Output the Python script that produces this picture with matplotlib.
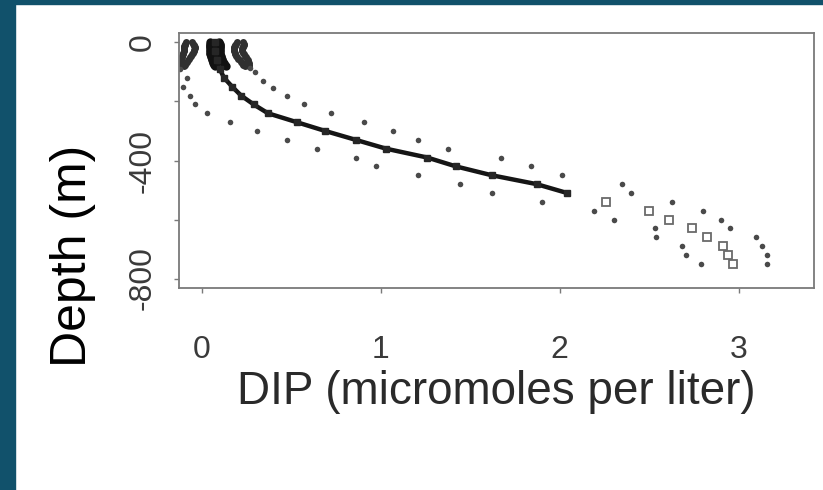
import matplotlib
matplotlib.use("Agg")
import matplotlib.pyplot as plt
from matplotlib.patches import Rectangle

plt.rcParams['font.family'] = ['Liberation Sans', 'DejaVu Sans']

# near-surface samples: three dense clusters (inner/outer edge of each)
surf_depth = [0, 4, 8, 12, 16, 20, 25, 30, 35, 40, 45, 50, 55, 60, 65, 70, 75, 80]
left_out = [-0.088, -0.093, -0.093, -0.099, -0.099, -0.099, -0.099, -0.099, -0.104,
            -0.104, -0.110, -0.110, -0.115, -0.115, -0.121, -0.121, -0.124, -0.124]
left_in = [-0.054, -0.049, -0.043, -0.043, -0.037, -0.037, -0.043, -0.043, -0.049,
           -0.054, -0.060, -0.065, -0.071, -0.076, -0.082, -0.088, -0.093, -0.099]
mid_out = [0.046, 0.046, 0.046, 0.046, 0.046, 0.046, 0.046, 0.046, 0.046,
           0.046, 0.052, 0.052, 0.057, 0.057, 0.063, 0.063, 0.069, 0.074]
mid_in = [0.096, 0.102, 0.102, 0.102, 0.102, 0.102, 0.102, 0.102, 0.102,
          0.102, 0.108, 0.108, 0.113, 0.113, 0.119, 0.124, 0.130, 0.136]
right_out = [0.197, 0.191, 0.186, 0.186, 0.180, 0.180, 0.180, 0.180, 0.186,
             0.186, 0.191, 0.197, 0.202, 0.214, 0.218, 0.225, 0.232, 0.240]
right_in = [0.230, 0.236, 0.236, 0.230, 0.230, 0.225, 0.225, 0.225, 0.230,
            0.236, 0.241, 0.247, 0.253, 0.258, 0.260, 0.262, 0.264, 0.266]

# lower and upper bounds
low_depth = [90, 120, 150, 180, 210, 240, 270, 300, 330, 360, 390, 420,
             450, 480, 510, 540, 570, 600, 630, 660, 690, 720, 750]
low_dip = [-0.120, -0.084, -0.103, -0.065, -0.037, 0.028, 0.158, 0.310, 0.477,
           0.643, 0.864, 0.975, 1.208, 1.440, 1.620, 1.900, 2.190, 2.305,
           2.530, 2.537, 2.680, 2.705, 2.790]
up_depth = [85, 100, 130, 155, 180, 210, 240, 270, 300, 330, 360, 390,
            420, 450, 480, 510, 540, 570, 600, 630, 660, 690, 720, 750]
up_dip = [0.270, 0.297, 0.342, 0.398, 0.476, 0.570, 0.720, 0.905, 1.070, 1.210,
          1.375, 1.670, 1.840, 2.010, 2.346, 2.400, 2.627, 2.800, 2.900, 2.950,
          3.095, 3.127, 3.157, 3.157]

# central profile (line) and deep observations (squares)
center_depth = [0, 30, 60, 90, 120, 150, 180, 210, 240, 270, 300, 330,
                360, 390, 420, 450, 480, 510]
center_dip = [0.072, 0.074, 0.085, 0.100, 0.125, 0.170, 0.220, 0.290, 0.370,
              0.530, 0.690, 0.860, 1.030, 1.260, 1.420, 1.620, 1.870, 2.040]
deep_depth = [540, 570, 600, 630, 660, 690, 720, 750]
deep_dip = [2.26, 2.50, 2.61, 2.74, 2.82, 2.91, 2.94, 2.97]

x_ticks = [0, 1, 2, 3]
y_ticks = [0, -200, -400, -600, -800]
y_ticklabels = ['0', '', '-400', '', '-800']

fig = plt.figure(figsize=(8.23, 4.90), dpi=100)
fig.patch.set_facecolor('white')
teal = '#11516b'
fig.patches.append(Rectangle((0, 0), 15 / 823, 1, transform=fig.transFigure,
                             color=teal, zorder=0))
fig.patches.append(Rectangle((0, 1 - 4 / 490), 1, 4 / 490, transform=fig.transFigure,
                             color=teal, zorder=0))

ax = fig.add_axes([179 / 823, 1 - 288 / 490, 635 / 823, 255 / 490])

dot = dict(ls='none', marker='o', ms=4, color='#4a4a4a', mec='none')
neg = lambda d: [-v for v in d]

for xs in (left_out, left_in, right_out, right_in):
    ax.plot(xs, neg(surf_depth), ls='none', marker='o', ms=5, color='#303030', mec='none')
for xs in (mid_out, mid_in):
    ax.plot(xs, neg(surf_depth), ls='none', marker='o', ms=6, color='#111', mec='none')

ax.plot(low_dip, neg(low_depth), **dot)
ax.plot(up_dip, neg(up_depth), **dot)

ax.plot(center_dip, neg(center_depth), color='#151515', lw=3.2, solid_capstyle='round',
        marker='s', ms=4.2, mfc='#262626', mec='#262626')
ax.plot(deep_dip, neg(deep_depth), ls='none', marker='s', ms=5.6, mfc='none',
        mec='#6a6a6a', mew=1.3)

ax.set_xlim(-0.127, 3.42)
ax.set_ylim(-832, 32)

ax.set_xticks(x_ticks)
ax.set_xticklabels([str(v) for v in x_ticks])
ax.set_yticks(y_ticks)
ax.set_yticklabels(y_ticklabels, rotation=90, va='center')

for s in ax.spines.values():
    s.set_color('#7a7a7a')
    s.set_linewidth(1.3)
ax.tick_params(axis='both', colors='#7a7a7a', labelcolor='#3a3a3a',
               labelsize=23, length=3.6, width=1)
ax.tick_params(axis='x', pad=30)
ax.tick_params(axis='y', pad=12)

fig.text(496 / 823, 1 - 392 / 490, 'DIP (micromoles per liter)', fontsize=33,
         ha='center', va='center', color='#2a2a2a')
fig.text(73 / 823, 1 - 256 / 490, 'Depth (m)', fontsize=36, rotation=90,
         ha='center', va='center', color='black')

fig.savefig('out.png', dpi=100)
